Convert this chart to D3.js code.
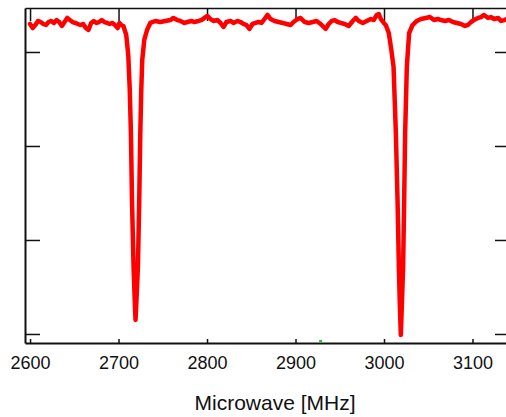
<!DOCTYPE html>
<html>
<head>
<meta charset="utf-8">
<script src="https://cdn.jsdelivr.net/npm/d3@7"></script>
<style>
  html, body { margin: 0; padding: 0; background: #fff; }
  svg { display: block; }
  .axis path, .axis line { stroke: #111; }
  .axis text { font-family: "Liberation Sans", Arial, sans-serif; fill: #111; }
</style>
</head>
<body>
<div id="chart"></div>
<script>
// microwave frequency, MHz
const freq = [
  2600, 2603, 2606, 2609, 2612, 2615, 2618, 2621, 2624, 2627, 2630, 2633, 2636, 2639, 2642, 2645,
  2648, 2651, 2654, 2657, 2660, 2663, 2666, 2669, 2672, 2675, 2678, 2681, 2684, 2687, 2690, 2693,
  2696, 2699, 2701, 2703, 2705.5,
  2708.7, 2711, 2712.7, 2714, 2715.2, 2717, 2718.3, 2719.2, 2720.3, 2721.9, 2723.4, 2724.6, 2725.7,
  2726.8, 2729.1, 2732.2, 2735.9,
  2741.6, 2747.2, 2752.9, 2758.6, 2762, 2766.5, 2769.9, 2774.4, 2777.8, 2782.3, 2785.7, 2790.3,
  2793.7, 2797.1, 2800.5, 2803.9, 2807.2, 2811.8, 2815.2, 2818.6, 2822, 2826.5, 2829.9, 2834.4,
  2837.8, 2841.2, 2844.6, 2848, 2851.4, 2854.8, 2858.2, 2861.6, 2865, 2868.4, 2871.8, 2876.3,
  2880.9, 2885.4, 2889.9, 2894.5, 2897.8, 2902.4, 2905.8, 2910.3, 2914.8, 2919.4, 2923.9, 2928.4,
  2931.8, 2934.1, 2937.5, 2940.9, 2944.3, 2947.7, 2951.1, 2955.6, 2960.1, 2964.7, 2968.1, 2971.5,
  2976, 2980.5, 2985.1, 2988.4, 2991.8, 2994.1, 2996.4, 2999.8,
  3002, 3005.4, 3008.3, 3010.8, 3013.4, 3015.3, 3016.8, 3017.9, 3019, 3020.2, 3021.6, 3022.8,
  3023.9, 3025.8, 3028.4, 3032.3, 3037.1,
  3041.7, 3047.3, 3051.9, 3056.4, 3060.9, 3064.3, 3068.9, 3073.4, 3077.9, 3082.4, 3087, 3091.5,
  3094.9, 3098.3, 3101.7, 3106.2, 3109.6, 3113, 3117.6, 3121, 3124.4, 3128.9, 3132.3, 3135.7, 3139.1
];

// normalised signal
const signal = [
  1.0298, 1.0255, 1.0287, 1.0330, 1.0319, 1.0298, 1.0287, 1.0319, 1.0330, 1.0309, 1.0340, 1.0319, 1.0277, 1.0319, 1.0362, 1.0340,
  1.0319, 1.0309, 1.0298, 1.0287, 1.0298, 1.0255, 1.0234, 1.0309, 1.0330, 1.0309, 1.0319, 1.0340, 1.0319, 1.0309, 1.0298, 1.0309,
  1.0287, 1.0255, 1.0309, 1.0287, 1.0277,
  1.0181, 0.9968, 0.9596, 0.9138, 0.8426, 0.7713, 0.7362, 0.7149, 0.7362, 0.7713, 0.8426, 0.9138, 0.9596,
  0.9915, 1.0128, 1.0234, 1.0309,
  1.0330, 1.0319, 1.0330, 1.0340, 1.0362, 1.0340, 1.0330, 1.0309, 1.0319, 1.0330, 1.0319, 1.0330,
  1.0340, 1.0362, 1.0383, 1.0351, 1.0330, 1.0340, 1.0309, 1.0266, 1.0319, 1.0330, 1.0309, 1.0330,
  1.0319, 1.0298, 1.0287, 1.0245, 1.0298, 1.0309, 1.0319, 1.0309, 1.0351, 1.0394, 1.0351, 1.0330,
  1.0319, 1.0309, 1.0298, 1.0287, 1.0319, 1.0351, 1.0362, 1.0319, 1.0309, 1.0319, 1.0330, 1.0298,
  1.0266, 1.0245, 1.0298, 1.0330, 1.0340, 1.0319, 1.0309, 1.0298, 1.0277, 1.0330, 1.0362, 1.0330,
  1.0309, 1.0330, 1.0351, 1.0340, 1.0394, 1.0404, 1.0351, 1.0309,
  1.0287, 1.0202, 1.0021, 0.9840, 0.9138, 0.8426, 0.7713, 0.7309, 0.6989, 0.7309, 0.7713, 0.8426,
  0.9138, 0.9840, 1.0202, 1.0287, 1.0330,
  1.0351, 1.0362, 1.0372, 1.0340, 1.0351, 1.0340, 1.0330, 1.0340, 1.0319, 1.0309, 1.0298, 1.0277,
  1.0287, 1.0319, 1.0340, 1.0362, 1.0372, 1.0394, 1.0362, 1.0372, 1.0351, 1.0362, 1.0330, 1.0340, 1.0351
];

// stray green point near the bottom axis
const greenFreq = [2928.4];
const greenSignal = [0.6926];

const xTicks = [2600, 2700, 2800, 2900, 3000, 3100];
const yTicks = [0.7, 0.8, 0.9, 1.0];

const W = 506, H = 417;
const margin = { top: 8, right: -1, bottom: 74, left: 25 };
const width = W - margin.left - margin.right,
      height = H - margin.top - margin.bottom;

const svg = d3.select("#chart")
  .append("svg")
  .attr("width", W)
  .attr("height", H);

const g = svg.append("g")
  .attr("transform", "translate(" + margin.left + "," + margin.top + ")");

const x = d3.scaleLinear()
  .domain([2594.3, 3139.0])
  .range([0, width]);

const y = d3.scaleLinear()
  .domain([0.6904, 1.0468])
  .range([height, 0]);

// bottom axis with labels
g.append("g")
  .attr("class", "axis x")
  .attr("transform", "translate(0," + height + ")")
  .call(d3.axisBottom(x).tickValues(xTicks).tickSize(-4).tickSizeOuter(0).tickPadding(13).tickFormat(d3.format("d")))
  .call(s => s.select(".domain").attr("stroke-width", 2))
  .call(s => s.selectAll(".tick line").attr("stroke-width", 1.5).attr("y1", 1))
  .call(s => s.selectAll("text").attr("font-size", 18));

// top frame
g.append("g")
  .attr("class", "axis x2")
  .call(d3.axisTop(x).tickValues(xTicks).tickSize(-13).tickSizeOuter(0).tickFormat(""))
  .call(s => s.select(".domain").attr("stroke-width", 1.5))
  .call(s => s.selectAll(".tick line").attr("stroke-width", 1.5));

// left axis, no labels
g.append("g")
  .attr("class", "axis y")
  .call(d3.axisLeft(y).tickValues(yTicks).tickSize(-15).tickSizeOuter(0).tickFormat(""))
  .call(s => s.select(".domain").attr("stroke-width", 2))
  .call(s => s.selectAll(".tick line").attr("stroke-width", 1.5));

// right axis, mostly outside the window
g.append("g")
  .attr("class", "axis y2")
  .attr("transform", "translate(" + width + ",0)")
  .call(d3.axisRight(y).tickValues(yTicks).tickSize(-12).tickSizeOuter(0).tickFormat(""))
  .call(s => s.selectAll(".tick line").attr("stroke-width", 1.5));

const pts = freq.map((f, i) => [f, signal[i]]);

g.append("path")
  .datum(pts)
  .attr("fill", "none")
  .attr("stroke", "#ff0000")
  .attr("stroke-width", 4.5)
  .attr("stroke-linejoin", "round")
  .attr("stroke-linecap", "round")
  .attr("d", d3.line().x(d => x(d[0])).y(d => y(d[1])));

g.selectAll(".green")
  .data(greenFreq.map((f, i) => [f, greenSignal[i]]))
  .enter()
  .append("rect")
  .attr("class", "green")
  .attr("x", d => x(d[0]) - 1.5)
  .attr("y", d => y(d[1]) - 1)
  .attr("width", 3)
  .attr("height", 2)
  .attr("fill", "#22bb22");

svg.append("text")
  .attr("x", 275)
  .attr("y", 410)
  .attr("text-anchor", "middle")
  .attr("font-family", "Liberation Sans, Arial, sans-serif")
  .attr("font-size", 21)
  .attr("fill", "#111")
  .text("Microwave [MHz]");
</script>
</body>
</html>
